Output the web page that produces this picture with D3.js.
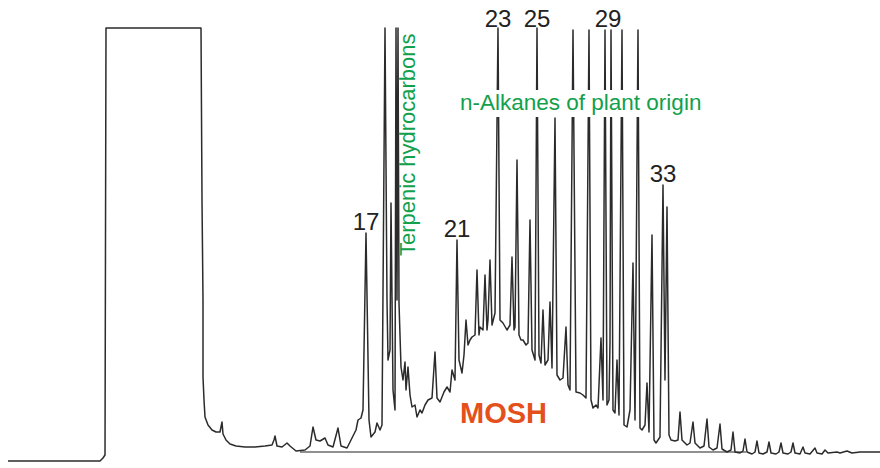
<!DOCTYPE html>
<html>
<head>
<meta charset="utf-8">
<script src="https://cdn.jsdelivr.net/npm/d3@7"></script>
<style>
  body { margin: 0; background: #fff; }
  svg { display: block; font-family: "Liberation Sans", Arial, sans-serif; }
</style>
</head>
<body>
<div id="chart"></div>
<script>
// GC-FID trace: [retention, response]
var trace = [
  [8,-9],[100,-9],[103,-6],[105,-3],[106,424],[201,424],[202,252],[203,152],[203,75],[204,52],
  [205,35],[208,27],[212,22],[216,20],[220,20],[222,30],[223,18],[226,12],[230,8],[236,6],
  [245,5],[255,5],[265,6],[272,7],[274,12],[275,16],[277,6],[282,5],[287,9],[290,6],
  [296,1],[305,2],[310,6],[313,25],[316,12],[320,11],[325,14],[328,7],[333,5],[338,24],
  [341,6],[347,4],[352,14],[356,22],[358,32],[361,34],[363,42],[366,219],[369,32],[371,15],
  [375,20],[377,29],[380,22],[382,27],[385,424],[387,152],[388,92],[390,102],[391,249],[393,62],
  [395,42],[396,424],[397,152],[398,424],[399,149],[401,85],[403,72],[405,90],[406,62],[408,85],
  [410,57],[412,45],[415,47],[417,35],[420,42],[422,39],[425,47],[428,52],[432,54],[435,100],
  [437,54],[440,50],[444,60],[447,65],[450,60],[452,82],[455,72],[457,212],[459,92],[462,79],
  [464,97],[466,132],[468,107],[470,112],[472,115],[475,117],[477,182],[479,117],[480,125],[483,122],
  [485,177],[487,122],[488,132],[490,192],[492,127],[495,139],[498,424],[500,132],[503,129],[507,122],
  [510,127],[512,195],[514,122],[515,125],[517,292],[519,117],[521,112],[523,112],[526,107],[528,109],
  [530,232],[532,102],[535,92],[537,424],[539,97],[541,89],[543,142],[545,87],[548,92],[550,150],
  [552,84],[555,334],[557,77],[560,72],[563,74],[566,125],[568,67],[570,62],[573,422],[576,60],
  [580,59],[583,57],[586,54],[589,422],[591,52],[593,44],[596,47],[598,44],[601,114],[603,52],
  [605,422],[607,47],[609,52],[610,110],[611,422],[613,42],[615,39],[617,92],[619,37],[622,422],
  [624,27],[627,25],[630,42],[633,189],[635,32],[638,422],[640,24],[642,22],[645,27],[647,69],
  [649,20],[652,217],[654,12],[656,9],[660,15],[663,267],[665,72],[667,245],[669,17],[671,12],
  [675,11],[678,12],[680,40],[682,12],[687,7],[690,9],[693,30],[695,9],[700,4],[704,6],
  [707,33],[709,5],[713,2],[717,4],[720,28],[722,3],[727,0],[731,2],[733,20],[735,0],
  [740,-1],[743,1],[745,13],[747,0],[752,-2],[755,0],[757,11],[759,-1],[763,-2],[767,0],
  [769,10],[771,-1],[776,-2],[779,0],[781,9],[783,-1],[788,-2],[791,0],[793,9],[795,-1],
  [800,-2],[803,5],[805,-1],[810,-2],[815,4],[817,-1],[822,-2],[825,2],[828,-1],[837,0],
  [840,-1],[847,1],[852,-1],[860,0],[870,0],[880,0]
]

// n-alkane peaks that carry a carbon number
var alkanes = [
  {c: "17", rt: 366, top: 219},
  {c: "21", rt: 457, top: 212},
  {c: "23", rt: 498, top: 424},
  {c: "25", rt: 537, top: 424},
  {c: "29", rt: 608, top: 424},
  {c: "33", rt: 663, top: 267}
]

// drawn baseline under the hump
var baseline = [[300, 0], [746, 0]]

var width = 880
var height = 468

var x = d3.scaleLinear()
  .domain([0, 880])
  .range([0, width])

var y = d3.scaleLinear()
  .domain([0, 424])
  .range([452, 28])

var svg = d3.select("#chart")
  .append("svg")
    .attr("width", width)
    .attr("height", height)

var line = d3.line()
  .x(d => x(d[0]))
  .y(d => y(d[1]))

svg.append("path")
  .attr("d", line(baseline))
  .attr("fill", "none")
  .attr("stroke", "#222")
  .attr("stroke-width", 1.2)

svg.append("path")
  .attr("d", line(trace))
  .attr("fill", "none")
  .attr("stroke", "#2b2b2b")
  .attr("stroke-width", 1.5)
  .attr("stroke-linejoin", "round")

// carbon numbers above the peaks
svg.selectAll("clabels")
  .data(alkanes)
  .enter().append("text")
    .attr("x", d => x(d.rt))
    .attr("y", d => Math.max(y(d.top) - 3, 27))
    .attr("text-anchor", "middle")
    .style("font-size", "24px")
    .style("fill", "#222")
    .text(d => d.c)

// label box knocks out the peak lines behind it
var knock = svg.append("rect").attr("fill", "#fff")

var alkText = svg.append("text")
  .attr("x", x(460))
  .attr("y", y(342))
  .style("font-size", "22.5px")
  .style("fill", "#12a04c")
  .text("n-Alkanes of plant origin")

var bb = alkText.node().getBBox()
knock
  .attr("x", bb.x - 3)
  .attr("y", bb.y)
  .attr("width", bb.width + 6)
  .attr("height", bb.height + 2)

svg.append("text")
  .attr("transform", "translate(" + x(415) + "," + y(196) + ") rotate(-90)")
  .style("font-size", "22px")
  .style("fill", "#12a04c")
  .text("Terpenic hydrocarbons")

svg.append("text")
  .attr("x", x(460))
  .attr("y", y(29))
  .style("font-size", "29px")
  .style("font-weight", "bold")
  .style("fill", "#e4501c")
  .text("MOSH")
</script>
</body>
</html>
